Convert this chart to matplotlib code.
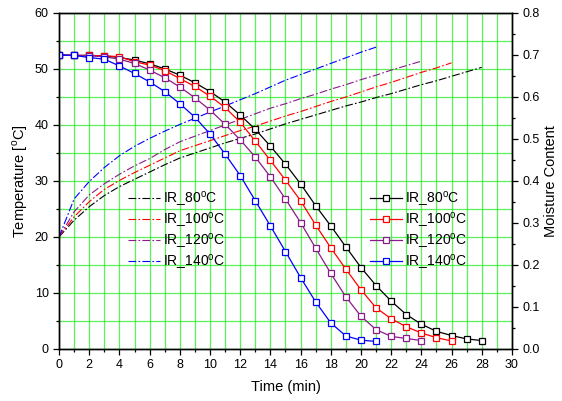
import matplotlib
matplotlib.use('Agg')
import matplotlib.pyplot as plt
import numpy as np

plt.rcParams['font.family'] = ['Liberation Sans', 'DejaVu Sans']
plt.rcParams['mathtext.fontset'] = 'custom'
plt.rcParams['mathtext.rm'] = 'Liberation Sans'

# temperature curves (left axis), one value per minute
t80 = list(range(0, 29))
temp80 = [20, 23.0, 25.4, 27.4, 29.0, 30.3, 31.6, 32.9, 34.1, 35.0, 35.9, 36.8, 37.6, 38.4, 39.3,
          40.2, 41.0, 41.8, 42.6, 43.4, 44.1, 44.9, 45.6, 46.4, 47.2, 47.9, 48.7, 49.5, 50.3]
t100 = list(range(0, 27))
temp100 = [20, 23.6, 26.3, 28.5, 30.1, 31.5, 32.8, 34.1, 35.4, 36.3, 37.2, 38.1, 39.0, 39.8, 40.7,
           41.6, 42.4, 43.3, 44.2, 45.0, 45.9, 46.8, 47.6, 48.5, 49.4, 50.2, 51.1]
t120 = list(range(0, 25))
temp120 = [20, 24.5, 27.5, 29.5, 31.2, 32.7, 34.0, 35.6, 37.0, 38.0, 39.0, 40.0, 41.0, 42.0, 43.0,
           43.8, 44.7, 45.5, 46.4, 47.2, 48.1, 48.9, 49.8, 50.6, 51.4]
t140 = list(range(0, 22))
temp140 = [20, 26.8, 29.9, 32.4, 34.5, 36.2, 37.6, 38.9, 40.1, 41.2, 42.3, 43.4, 44.5, 45.6, 46.8,
           48.0, 49.0, 50.0, 51.0, 52.0, 53.0, 53.9]

# moisture content (right axis)
mc80 = [0.700, 0.699, 0.699, 0.698, 0.694, 0.688, 0.679, 0.667, 0.652, 0.634, 0.613, 0.588, 0.557,
        0.523, 0.483, 0.440, 0.393, 0.341, 0.293, 0.243, 0.194, 0.151, 0.114, 0.082, 0.059, 0.042,
        0.032, 0.024, 0.020]
mc100 = [0.700, 0.699, 0.699, 0.698, 0.696, 0.684, 0.676, 0.663, 0.644, 0.625, 0.602, 0.575, 0.540,
         0.495, 0.449, 0.402, 0.353, 0.295, 0.241, 0.190, 0.141, 0.098, 0.072, 0.053, 0.038, 0.027,
         0.019]
mc120 = [0.700, 0.699, 0.698, 0.696, 0.690, 0.680, 0.664, 0.646, 0.624, 0.598, 0.569, 0.535, 0.498,
         0.457, 0.410, 0.357, 0.301, 0.240, 0.180, 0.124, 0.078, 0.046, 0.030, 0.025, 0.020]
mc140 = [0.700, 0.699, 0.694, 0.690, 0.674, 0.656, 0.636, 0.613, 0.584, 0.552, 0.512, 0.464, 0.413,
         0.353, 0.293, 0.232, 0.170, 0.112, 0.062, 0.031, 0.021, 0.018]

labels = ['IR_80$^{\\rm o}$C', 'IR_100$^{\\rm o}$C', 'IR_120$^{\\rm o}$C', 'IR_140$^{\\rm o}$C']
colors = ['black', '#ff0000', '#8b1a8b', '#0000ff']

fig = plt.figure(figsize=(5.62, 4.01), dpi=100)
ax = fig.add_axes([0.105, 0.1297, 0.806, 0.8379])
ax2 = ax.twinx()

dashdot = (0, (7, 2, 1.5, 2))
temp_lines = []
for t, y, c, lab in zip([t80, t100, t120, t140], [temp80, temp100, temp120, temp140], colors, labels):
    l, = ax.plot(t, y, color=c, lw=0.8, linestyle=dashdot, label=lab)
    temp_lines.append(l)

mc_lines = []
for t, y, c, lab in zip([t80, t100, t120, t140], [mc80, mc100, mc120, mc140], colors, labels):
    l, = ax2.plot(t, y, color=c, lw=0.9, marker='s', markersize=4.5, markerfacecolor='white',
                  markeredgecolor=c, markeredgewidth=0.9, label=lab)
    mc_lines.append(l)

ax.set_xlim(0, 30)
ax.set_ylim(0, 60)
ax2.set_ylim(0, 0.8)
ax.set_xticks(np.arange(0, 31, 2))
ax.set_xticks(np.arange(0, 31, 1), minor=True)
ax.set_yticks(np.arange(0, 61, 10))
ax.set_yticks(np.arange(0, 61, 5), minor=True)
ax2.set_yticks(np.arange(0, 0.81, 0.1))
ax2.set_yticks(np.arange(0, 0.81, 0.05), minor=True)
ax2.set_yticklabels(['%.1f' % v for v in np.arange(0, 0.81, 0.1)])

ax.grid(True, which='both', color='#22ee22', lw=0.9, alpha=0.75)
ax.set_axisbelow(True)

for a in (ax, ax2):
    a.tick_params(which='major', direction='out', length=4, width=0.9, labelsize=9)
    a.tick_params(which='minor', direction='out', length=2.5, width=0.9)
    for s in a.spines.values():
        s.set_linewidth(1.0)

ax.set_xlabel('Time (min)', fontsize=10.5, labelpad=6)
ax.set_ylabel('Temperature [$^{\\rm o}$C]', fontsize=10.5, labelpad=3)
ax2.set_ylabel('Moisture Content', fontsize=10.5, labelpad=3)

leg1 = ax2.legend(handles=temp_lines, loc='upper left', bbox_to_anchor=(0.2278, 0.5274),
                  bbox_transform=fig.transFigure, frameon=False, fontsize=10, borderpad=0,
                  borderaxespad=0, handlelength=2.3, handletextpad=0.2, labelspacing=0.13)
ax2.add_artist(leg1)
ax2.legend(handles=mc_lines, loc='upper left', bbox_to_anchor=(0.6584, 0.5274),
           bbox_transform=fig.transFigure, frameon=False, fontsize=10, borderpad=0,
           borderaxespad=0, handlelength=2.3, handletextpad=0.2, labelspacing=0.13)

fig.savefig('out.png', dpi=100)
